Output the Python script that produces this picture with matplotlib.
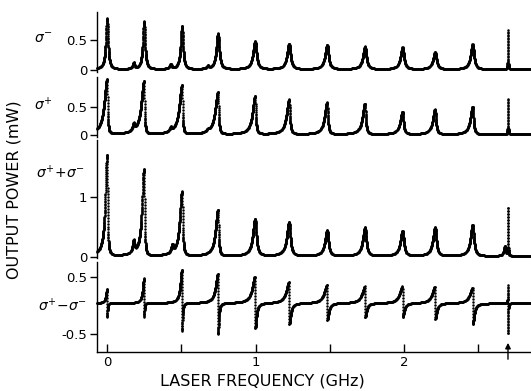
import numpy as np
import matplotlib
matplotlib.use("Agg")
import matplotlib.pyplot as plt

plt.rcParams['font.family'] = ['DejaVu Sans']
plt.rcParams['axes.unicode_minus'] = False

# resonance positions (GHz)
peak_x = [0.0, 0.249, 0.505, 0.747, 0.997, 1.226, 1.482, 1.737, 1.990, 2.209, 2.462]
odd_x = 2.70
arrow_x = 2.70

# sigma- trace (mW)
sm_h = [0.85, 0.80, 0.72, 0.60, 0.47, 0.43, 0.41, 0.38, 0.37, 0.29, 0.42]
sm_gl = [0.010, 0.010, 0.011, 0.013, 0.016, 0.016, 0.016, 0.016, 0.016, 0.016, 0.016]
sm_gr = [0.008, 0.008, 0.008, 0.010, 0.011, 0.011, 0.011, 0.011, 0.011, 0.011, 0.011]
sm_odd = 0.65
sm_bump_x = [0.18, 0.43, 0.68]
sm_bump_h = [0.10, 0.08, 0.05]

# sigma+ trace (mW)
sp_h = [0.96, 0.93, 0.86, 0.74, 0.67, 0.61, 0.56, 0.54, 0.40, 0.44, 0.49]
sp_gl = [0.022, 0.022, 0.022, 0.022, 0.020, 0.020, 0.019, 0.019, 0.018, 0.018, 0.018]
sp_gr = [0.004, 0.004, 0.004, 0.005, 0.005, 0.006, 0.006, 0.006, 0.007, 0.007, 0.007]
sp_odd = 0.62
sp_bump_x = [0.18, 0.43, 0.68]
sp_bump_h = [0.12, 0.07, 0.04]

# sigma+ + sigma- trace (mW)
sum_h = [1.68, 1.45, 1.07, 0.77, 0.62, 0.57, 0.43, 0.48, 0.42, 0.48, 0.52]
sum_gl = [0.014, 0.016, 0.018, 0.019, 0.018, 0.018, 0.017, 0.017, 0.017, 0.017, 0.017]
sum_gr = [0.004, 0.004, 0.005, 0.005, 0.010, 0.010, 0.010, 0.010, 0.010, 0.010, 0.010]
sum_odd = 0.80
sum_bump_x = [0.18, 0.44, 2.68]
sum_bump_h = [0.20, 0.13, 0.17]

# sigma+ - sigma- trace (mW): top and bottom of each dispersive feature
dif_base = 0.04
dif_top = [0.29, 0.47, 0.62, 0.55, 0.50, 0.41, 0.36, 0.33, 0.33, 0.33, 0.31]
dif_bot = [-0.20, -0.20, -0.45, -0.50, -0.40, -0.33, -0.26, -0.21, -0.21, -0.24, -0.33]
dif_gl = [0.008, 0.010, 0.013, 0.018, 0.022, 0.022, 0.022, 0.022, 0.022, 0.022, 0.022]
dif_gr = [0.003, 0.003, 0.004, 0.006, 0.010, 0.012, 0.012, 0.012, 0.012, 0.012, 0.012]
dif_odd_top = 0.36
dif_odd_bot = -0.50

x = np.linspace(-0.068, 2.855, 30000)


def lorentz(x0, h, gl, gr):
    d = x - x0
    g = np.where(d < 0, gl, gr)
    return h / (1 + (d / g) ** 2)


def peaks(hs, gls, grs, odd_h, bx, bh, base=0.01):
    y = np.full_like(x, base)
    for x0, h, gl, gr in zip(peak_x, hs, gls, grs):
        y += lorentz(x0, h, gl, gr)
    y += lorentz(odd_x, odd_h, 0.0015, 0.0015)
    for x0, h in zip(bx, bh):
        y += lorentz(x0, h, 0.009, 0.005)
    return y


def dispersive():
    y = np.full_like(x, dif_base)
    tops = dif_top + [dif_odd_top]
    bots = dif_bot + [dif_odd_bot]
    gls = dif_gl + [0.0015]
    grs = dif_gr + [0.0015]
    for x0, t, b, gl, gr in zip(peak_x + [odd_x], tops, bots, gls, grs):
        d = x - x0
        left = (t - dif_base) / (1 + (d / gl) ** 2)
        right = (b - dif_base) / (1 + (d / gr) ** 2)
        y += np.where(d < 0, left, right)
    return y


def trace(ax, y):
    # chart-recorder look: solid on gentle parts, dots only on the steepest edges
    pts = ax.transData.transform(np.column_stack([x, y]))
    dx = np.diff(pts[:, 0])
    dy = np.diff(pts[:, 1])
    seg = np.hypot(dx, dy)
    slope = np.abs(dy) / np.maximum(dx, 1e-9)
    step = np.clip(0.5 + 0.07 * (slope - 10), 0.5, 3.0)
    u = np.concatenate([[0], np.cumsum(seg / step)])
    k = np.arange(0, u[-1], 1.0)
    ax.plot(np.interp(k, u, x), np.interp(k, u, y), 'o', ms=1.8,
            color='black', mec='none', clip_on=False)


W, H = 531, 391
fig = plt.figure(figsize=(W / 100, H / 100), dpi=100)


def panel(top, bottom, ylim):
    ax = fig.add_axes([97 / W, 1 - bottom / H, 434 / W, (bottom - top) / H])
    ax.set_xlim(-0.068, 2.855)
    ax.set_ylim(*ylim)
    for s in ['top', 'right', 'bottom']:
        ax.spines[s].set_visible(False)
    ax.spines['left'].set_linewidth(1.0)
    ax.tick_params(axis='y', direction='out', length=5, width=1,
                   labelsize=9.5, pad=2)
    ax.tick_params(axis='x', bottom=False, labelbottom=False)
    return ax


ax1 = panel(12, 72, (-0.033, 0.967))
ax2 = panel(77, 137, (-0.035, 1.018))
ax3 = panel(140, 258, (-0.022, 1.945))
ax4 = panel(262, 352, (-0.807, 0.755))

ax1.set_yticks([0, 0.5], ['0', '0.5'])
ax2.set_yticks([0, 0.5], ['0', '0.5'])
ax3.set_yticks([0, 1], ['0', '1'])
ax4.set_yticks([-0.5, 0.5], ['-0.5', '0.5'])

trace(ax1, peaks(sm_h, sm_gl, sm_gr, sm_odd, sm_bump_x, sm_bump_h))
trace(ax2, peaks(sp_h, sp_gl, sp_gr, sp_odd, sp_bump_x, sp_bump_h))
trace(ax3, peaks(sum_h, sum_gl, sum_gr, sum_odd, sum_bump_x, sum_bump_h))
trace(ax4, dispersive())

# bottom frequency axis
ax4.spines['bottom'].set_visible(True)
ax4.spines['bottom'].set_linewidth(1.0)
ax4.set_xticks([0, 1, 2], ['0', '1', '2'])
ax4.set_xticks([0.5, 1.5, 2.5], minor=True)
ax4.tick_params(axis='x', which='both', bottom=True, labelbottom=True,
                direction='in', length=6, width=1, labelsize=9.5, pad=3)
ax4.annotate('', xy=(arrow_x, -0.60), xytext=(arrow_x, -0.98),
             arrowprops=dict(arrowstyle='-|>', color='black', lw=1,
                             mutation_scale=8),
             annotation_clip=False)

# trace labels
fig.text(43 / W, 1 - 39 / H, r'$\sigma^{-}$', fontsize=10, ha='center', va='center')
fig.text(43 / W, 1 - 105 / H, r'$\sigma^{+}$', fontsize=10, ha='center', va='center')
fig.text(61 / W, 1 - 173 / H, r'$\sigma^{+}\!+\!\sigma^{-}$', fontsize=10,
         ha='center', va='center')
fig.text(63 / W, 1 - 306 / H, r'$\sigma^{+}\!-\!\sigma^{-}$', fontsize=10,
         ha='center', va='center')

fig.text(262 / W, 1 - 381 / H, 'LASER FREQUENCY (GHz)', fontsize=11.5,
         ha='center', va='center')
fig.text(14 / W, 1 - 190 / H, 'OUTPUT POWER (mW)', fontsize=11.5,
         ha='center', va='center', rotation=90)

fig.savefig('out.png', dpi=100, facecolor='white')
